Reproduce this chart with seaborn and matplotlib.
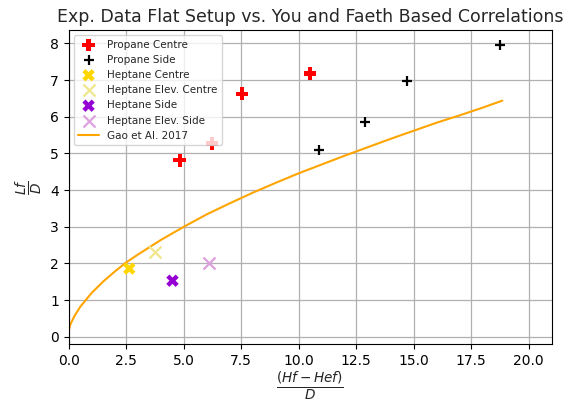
import matplotlib
matplotlib.use("Agg")
import matplotlib.pyplot as plt
import seaborn as sns
import numpy as np

# Data
propane_centre_x = [4.82, 6.23, 7.52, 10.5]
propane_centre_y = [4.81, 5.27, 6.63, 7.18]
propane_side_x = [10.89, 12.86, 14.7, 18.73]
propane_side_y = [5.1, 5.86, 6.97, 7.95]
heptane_centre_x = [2.63]
heptane_centre_y = [1.86]
heptane_elev_centre_x = [3.73]
heptane_elev_centre_y = [2.32]
heptane_side_x = [4.51]
heptane_side_y = [1.53]
heptane_elev_side_x = [6.08]
heptane_elev_side_y = [2.0]
gao_x = [0.0, 0.02, 0.05, 0.1, 0.25, 0.5, 1.0, 1.5, 2.0, 2.5, 3.0, 4.0, 5.0, 6.0, 7.0, 8.0, 9.0, 10.0, 11.0, 12.0, 13.0, 14.0, 15.0, 16.0, 17.0, 18.0, 18.85]
gao_y = [0.15, 0.22, 0.3, 0.38, 0.57, 0.82, 1.2, 1.51, 1.78, 2.03, 2.24, 2.64, 3.0, 3.34, 3.64, 3.93, 4.2, 4.46, 4.7, 4.94, 5.17, 5.4, 5.62, 5.84, 6.04, 6.25, 6.44]

sns.set_style("ticks")
fig, ax = plt.subplots(figsize=(5.73, 4.03), dpi=100)
fig.subplots_adjust(left=0.12, right=0.963, bottom=0.146, top=0.925)

kw = dict(ax=ax, edgecolor="none", zorder=3)
sns.scatterplot(x=propane_centre_x, y=propane_centre_y, marker="P", color="red", s=80, label="Propane Centre", **kw)
sns.scatterplot(x=propane_side_x, y=propane_side_y, marker="+", color="black", s=62, linewidth=1.6, label="Propane Side", ax=ax, zorder=3)
sns.scatterplot(x=heptane_centre_x, y=heptane_centre_y, marker="X", color="gold", s=80, label="Heptane Centre", **kw)
sns.scatterplot(x=heptane_elev_centre_x, y=heptane_elev_centre_y, marker="x", color="khaki", s=75, linewidth=1.6, label="Heptane Elev. Centre", ax=ax, zorder=3)
sns.scatterplot(x=heptane_side_x, y=heptane_side_y, marker="X", color="darkviolet", s=80, label="Heptane Side", **kw)
sns.scatterplot(x=heptane_elev_side_x, y=heptane_elev_side_y, marker="x", color="plum", s=75, linewidth=1.6, label="Heptane Elev. Side", ax=ax, zorder=3)
sns.lineplot(x=gao_x, y=gao_y, color="orange", linewidth=1.5, label="Gao et Al. 2017", ax=ax, zorder=2)

ax.set_xlim(0, 21)
ax.set_ylim(-0.2, 8.36)
ax.set_xticks(np.arange(0, 20.1, 2.5))
ax.set_yticks(range(0, 9))
ax.grid(True, color="#b0b0b0", linewidth=0.9)
ax.set_axisbelow(True)
for s in ax.spines.values():
    s.set_visible(True)
    s.set_color("black")
ax.tick_params(labelsize=10, colors="black", length=3.5)

ax.set_title("Exp. Data Flat Setup vs. You and Faeth Based Correlations", fontsize=12.5)
ax.set_xlabel(r"$\frac{(Hf - Hef)}{D}$", fontsize=14, labelpad=1)
ax.set_ylabel(r"$\frac{Lf}{D}$", fontsize=14)
ax.legend(loc="upper left", fontsize=7.5, frameon=True)

fig.savefig("out.png", dpi=100)
